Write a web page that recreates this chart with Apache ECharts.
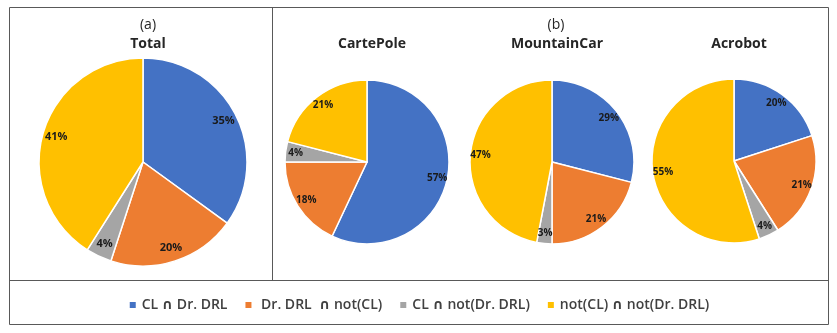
<!DOCTYPE html>
<html>
<head>
<meta charset="utf-8">
<script src="https://cdn.jsdelivr.net/npm/echarts@6/dist/echarts.min.js"></script>
<style>
  html, body { margin: 0; padding: 0; background: #fff; }
  #chart { width: 837px; height: 333px; }
</style>
</head>
<body>
<div id="chart"></div>
<script>
// categories (legend order, clockwise from 12 o'clock)
var categories = ['CL ∩ Dr. DRL', ' Dr. DRL  ∩ not(CL)', 'CL ∩ not(Dr. DRL)', 'not(CL) ∩ not(Dr. DRL)'];
var colors = ['#4472C4', '#ED7D31', '#A5A5A5', '#FFC000'];

// percentages
var totalVals = [35, 20, 4, 41];
var cartePoleVals = [57, 18, 4, 21];
var mountainCarVals = [29, 21, 3, 47];
var acrobotVals = [20, 21, 4, 55];

var font = '"Open Sans", "DejaVu Sans", sans-serif';

var pies = [
  { name: 'Total', vals: totalVals, center: [143, 162], r: 104, fs: 11 },
  { name: 'CartePole', vals: cartePoleVals, center: [367, 162], r: 82, fs: 10 },
  { name: 'MountainCar', vals: mountainCarVals, center: [552, 162], r: 82, fs: 10 },
  { name: 'Acrobot', vals: acrobotVals, center: [734, 161], r: 82, fs: 10 }
];

function toData(vals) {
  return vals.map(function (v, i) {
    return { name: categories[i], value: v, itemStyle: { color: colors[i] } };
  });
}

var series = [];
pies.forEach(function (p) {
  // visible pie
  series.push({
    name: p.name,
    type: 'pie',
    center: p.center,
    radius: [0, p.r],
    startAngle: 90,
    clockwise: true,
    animation: false,
    label: { show: false },
    labelLine: { show: false },
    itemStyle: { borderColor: '#fff', borderWidth: 1.5 },
    emphasis: { disabled: true },
    data: toData(p.vals)
  });
  // transparent ring only for placing the % labels further out
  series.push({
    name: p.name + ' labels',
    type: 'pie',
    center: p.center,
    radius: [p.r * 0.68, p.r],
    startAngle: 90,
    clockwise: true,
    silent: true,
    animation: false,
    label: {
      show: true,
      position: 'inside',
      formatter: '{c}%',
      color: '#1a1a1a',
      fontFamily: font,
      fontWeight: 'bold',
      fontSize: p.fs
    },
    labelLine: { show: false },
    itemStyle: { color: 'rgba(0,0,0,0)', borderWidth: 0 },
    emphasis: { disabled: true },
    data: p.vals.map(function (v, i) {
      return { name: categories[i], value: v, itemStyle: { color: 'rgba(0,0,0,0)' } };
    })
  });
});

var titles = [
  { text: '(a)', left: 143, top: 13, textAlign: 'center', textStyle: { fontSize: 14, fontWeight: 'normal', color: '#262626', fontFamily: font } },
  { text: '(b)', left: 551, top: 13, textAlign: 'center', textStyle: { fontSize: 14, fontWeight: 'normal', color: '#262626', fontFamily: font } }
];
pies.forEach(function (p) {
  titles.push({
    text: p.name, left: p.center[0], top: 32, textAlign: 'center',
    textStyle: { fontSize: 14, fontWeight: 'bold', color: '#262626', fontFamily: font }
  });
});

var lineStyle = { stroke: '#595959', lineWidth: 1 };
var chart = echarts.init(document.getElementById('chart'));
chart.setOption({
  animation: false,
  color: colors,
  title: titles,
  legend: {
    data: categories,
    left: 'center',
    top: 293,
    itemWidth: 8,
    itemHeight: 8,
    itemGap: 16,
    icon: 'rect',
    selectedMode: false,
    textStyle: { fontSize: 14, fontWeight: 600, color: '#404040', fontFamily: font }
  },
  graphic: [
    { type: 'rect', shape: { x: 9.5, y: 7.5, width: 819, height: 317 }, style: { fill: 'none', stroke: '#595959', lineWidth: 1 }, silent: true },
    { type: 'line', shape: { x1: 9.5, y1: 280.5, x2: 828.5, y2: 280.5 }, style: lineStyle, silent: true },
    { type: 'line', shape: { x1: 272.5, y1: 7.5, x2: 272.5, y2: 280.5 }, style: lineStyle, silent: true }
  ],
  series: series
});
</script>
</body>
</html>
